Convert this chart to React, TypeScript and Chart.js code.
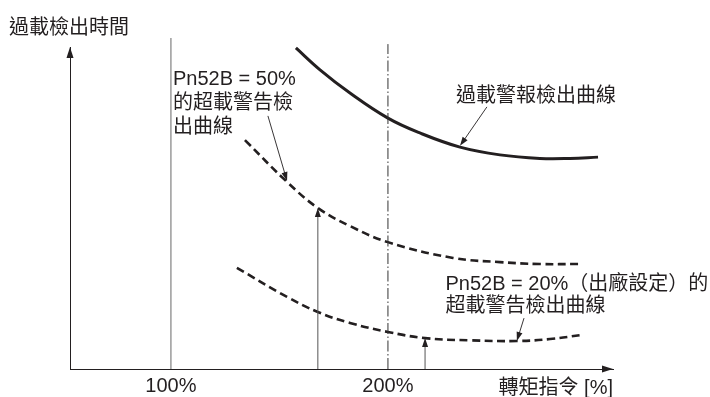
import React, { useEffect, useRef } from "react";
import { Chart, registerables } from "chart.js";

Chart.register(...registerables);

const FONT = '"Liberation Sans", "Noto Sans CJK TC", "Noto Sans CJK SC", sans-serif';
const INK = "#231f20";

// x: torque command [%]; y: overload detection time (relative units)
const xTickValues = [100, 200];
const xAxisTitle = "轉矩指令 [%]";
const yAxisTitle = "過載檢出時間";

// overload alarm detection curve (solid)
const alarmX = [157.6, 168.7, 182.5, 200, 214.7, 233.2, 251.6, 270.0, 283.9, 296.8];
const alarmY = [99.7, 92.9, 85.7, 77.9, 73.3, 68.9, 66.5, 65.4, 65.4, 65.8];

// Pn52B = 50% warning curve (dashed)
const warn50X = [134.1, 153.5, 167.7, 182.5, 200, 230, 251.6, 270, 287.6];
const warn50Y = [71.1, 58.1, 50.0, 44.4, 39.4, 34.5, 33.2, 32.6, 32.6];

// Pn52B = 20% warning curve (dashed)
const warn20X = [130.4, 153.5, 167.7, 182.5, 200, 217.1, 237.8, 259.4, 274.7, 289.4];
const warn20Y = [31.4, 22.4, 17.7, 14.3, 11.5, 9.6, 8.9, 8.7, 9.3, 10.6];

// reference vertical lines (100% solid, 200% dash-dot)
const refLineX = [100, 200];
const refLineTop = [102.8, 100.9];

// measurement arrows from the axis up to the warning curves
const arrowX = [167.7, 217.1];
const arrowTop = [50.0, 9.6];

const label50 = ["Pn52B = 50%", "的超載警告檢", "出曲線"];
const labelAlarm = ["過載警報檢出曲線"];
const label20 = ["Pn52B = 20%（出廠設定）的", "超載警告檢出曲線"];

// leader lines: [fromX, fromY, toX, toY] in data units
const leader50 = [144.7, 78.6, 153.5, 58.4];
const leaderAlarm = [245.6, 81.4, 233.2, 69.3];
const leader20 = [262.7, 15.8, 259.4, 8.7];

const X_MIN = 53.5;
const X_MAX = 303.7;

function zip(xs: number[], ys: number[]) {
  return xs.map((x, i) => ({ x, y: ys[i] }));
}

function arrowHead(ctx: CanvasRenderingContext2D, x1: number, y1: number, x2: number, y2: number, len: number, half: number) {
  const a = Math.atan2(y2 - y1, x2 - x1);
  const bx = x2 - Math.cos(a) * len;
  const by = y2 - Math.sin(a) * len;
  const nx = -Math.sin(a) * half;
  const ny = Math.cos(a) * half;
  ctx.beginPath();
  ctx.moveTo(x2, y2);
  ctx.lineTo(bx + nx, by + ny);
  ctx.lineTo(bx - nx, by - ny);
  ctx.closePath();
  ctx.fill();
}

const decorPlugin = {
  id: "decor",
  afterDatasetsDraw(chart: any) {
    const ctx: CanvasRenderingContext2D = chart.ctx;
    const xs = chart.scales.x;
    const ys = chart.scales.y;
    const area = chart.chartArea;
    ctx.save();
    ctx.fillStyle = INK;
    ctx.strokeStyle = INK;
    // axis arrowheads
    arrowHead(ctx, area.right - 10, area.bottom, area.right, area.bottom, 11, 3.5);
    arrowHead(ctx, area.left, area.top + 10, area.left, area.top, 11, 3.5);
    // measurement arrowheads
    arrowX.forEach((ax, i) => {
      const px = xs.getPixelForValue(ax);
      const py = ys.getPixelForValue(arrowTop[i]);
      arrowHead(ctx, px, py + 10, px, py, 9, 3);
    });
    // leader lines
    ctx.lineWidth = 0.9;
    [leader50, leaderAlarm, leader20].forEach((l) => {
      const x1 = xs.getPixelForValue(l[0]);
      const y1 = ys.getPixelForValue(l[1]);
      const x2 = xs.getPixelForValue(l[2]);
      const y2 = ys.getPixelForValue(l[3]);
      const a = Math.atan2(y2 - y1, x2 - x1);
      ctx.beginPath();
      ctx.moveTo(x1, y1);
      ctx.lineTo(x2 - Math.cos(a) * 6, y2 - Math.sin(a) * 6);
      ctx.stroke();
      arrowHead(ctx, x1, y1, x2, y2, 9, 3);
    });
    // texts
    ctx.font = `20px ${FONT}`;
    ctx.textBaseline = "alphabetic";
    ctx.textAlign = "left";
    ctx.fillText(yAxisTitle, 9, 33.5);
    label50.forEach((t, i) => ctx.fillText(t, 173, 84.5 + i * 24));
    labelAlarm.forEach((t, i) => ctx.fillText(t, 456, 102 + i * 24));
    label20.forEach((t, i) => ctx.fillText(t, 445.5, 290 + i * 22));
    ctx.textAlign = "right";
    ctx.fillText(xAxisTitle, 613, 393.5);
    ctx.restore();
  },
};

export default function App() {
  const ref = useRef<HTMLCanvasElement | null>(null);
  useEffect(() => {
    if (!ref.current) return;
    const lineBase = { pointRadius: 0, fill: false, clip: false as any, showLine: true };
    const datasets: any[] = [
      {
        ...lineBase,
        data: [{ x: refLineX[0], y: 0 }, { x: refLineX[0], y: refLineTop[0] }],
        borderColor: "#8a8a8a",
        borderWidth: 1.3,
      },
      {
        ...lineBase,
        data: [{ x: refLineX[1], y: 0 }, { x: refLineX[1], y: refLineTop[1] }],
        borderColor: "#333333",
        borderWidth: 1,
        borderDash: [11, 2.5, 1.5, 2.5],
      },
      ...arrowX.map((ax, i) => ({
        ...lineBase,
        data: [{ x: ax, y: 0 }, { x: ax, y: arrowTop[i] - 2 }],
        borderColor: "#555555",
        borderWidth: 1,
      })),
      {
        ...lineBase,
        data: zip(alarmX, alarmY),
        borderColor: INK,
        borderWidth: 3,
        tension: 0.4,
      },
      {
        ...lineBase,
        data: zip(warn50X, warn50Y),
        borderColor: INK,
        borderWidth: 2.6,
        borderDash: [8, 4.5],
        tension: 0.4,
      },
      {
        ...lineBase,
        data: zip(warn20X, warn20Y),
        borderColor: INK,
        borderWidth: 2.6,
        borderDash: [8, 4.5],
        tension: 0.4,
      },
    ];
    const chart = new Chart(ref.current, {
      type: "scatter",
      data: { datasets },
      options: {
        responsive: false,
        animation: false,
        devicePixelRatio: 1,
        layout: { padding: { left: 70, right: 97, top: 47, bottom: 0 } },
        plugins: { legend: { display: false }, tooltip: { enabled: false } },
        events: [],
        scales: {
          x: {
            type: "linear",
            min: X_MIN,
            max: X_MAX,
            grid: { display: false, drawTicks: false },
            border: { display: true, color: INK, width: 1 },
            afterBuildTicks: (scale: any) => {
              scale.ticks = xTickValues.map((v) => ({ value: v }));
            },
            afterFit: (scale: any) => {
              scale.height = 28;
            },
            ticks: {
              autoSkip: false,
              maxRotation: 0,
              padding: 5,
              color: INK,
              font: { family: FONT, size: 20 },
              callback: (v: any) => `${v}%`,
            },
          },
          y: {
            type: "linear",
            min: 0,
            max: 100,
            grid: { display: false, drawTicks: false },
            border: { display: true, color: INK, width: 1 },
            ticks: { display: false },
            afterFit: (scale: any) => {
              scale.width = 0;
            },
          },
        },
      },
      plugins: [decorPlugin],
    });
    return () => chart.destroy();
  }, []);
  return (
    <div style={{ position: "absolute", left: 0, top: 0, width: 710, height: 397, background: "#fff" }}>
      <canvas ref={ref} width={710} height={397} style={{ width: 710, height: 397, display: "block" }} />
    </div>
  );
}
